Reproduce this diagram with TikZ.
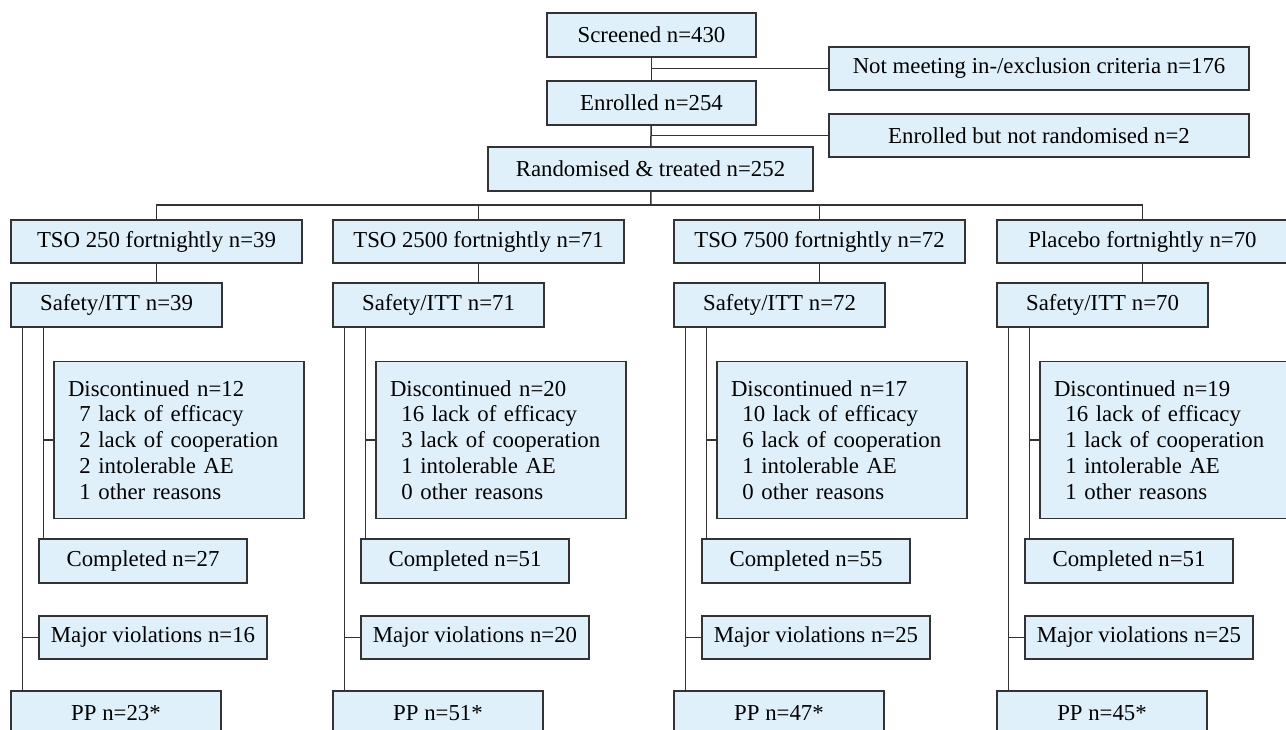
\documentclass[tikz,border=0pt]{standalone}
\usepackage{fontspec}
\setmainfont{Liberation Serif}
\definecolor{boxfill}{RGB}{224,240,250}
\definecolor{boxline}{RGB}{51,51,51}

\begin{document}
\begin{tikzpicture}[x=1pt,y=-1pt,
  box/.style={draw=boxline,fill=boxfill,line width=1.4pt,inner sep=0pt,
    font=\fontsize{22.8}{25.8}\selectfont},
  link/.style={draw=boxline,line width=1.5pt}]
  \useasboundingbox (0,0) rectangle (1286,730);
  \clip (0,0) rectangle (1286,730);
  % screening and randomisation
  \node[box,minimum width=209pt,minimum height=44pt] (scr) at (651.5,35) {Screened n=430};
  \node[box,minimum width=420pt,minimum height=43pt] (excl) at (1039,68.5) {Not meeting in-/exclusion criteria n=176};
  \node[box,minimum width=209pt,minimum height=44pt] (enr) at (651.5,103) {Enrolled n=254};
  \node[box,minimum width=420pt,minimum height=43pt] (nrand) at (1039,135.5) {Enrolled but not randomised n=2};
  \node[box,minimum width=325pt,minimum height=44pt] (rand) at (650.5,169) {Randomised \& treated n=252};
  \draw[link] (scr) -- (enr);
  \draw[link] (scr.south |- excl.west) -- (excl.west);
  \draw[link] (enr) -- (rand);
  \draw[link] (enr.south |- nrand.west) -- (nrand.west);
  % the four arms
  \foreach \colx/\idx/\arm/\n/\nd/\ea/\eb/\ec/\ed/\comp/\maj/\pp in {
      11/1/TSO 250/39/12/7/2/2/1/27/16/23,
      333/2/TSO 2500/71/20/16/3/1/0/51/20/51,
      674/3/TSO 7500/72/17/10/6/1/0/55/25/47,
      997/4/Placebo/70/19/16/1/1/1/51/25/45} {
    \node[box,minimum width=291pt,minimum height=43pt] (t\idx) at (\colx+145.5,241.5) {\arm{} fortnightly n=\n};
    \node[box,minimum width=211pt,minimum height=44pt] (s\idx) at (\colx+105.5,305) {Safety/ITT n=\n};
    \node[box,text width=222pt,inner xsep=14pt,minimum height=157pt,align=left] (d\idx) at (\colx+168,440)
      {Discontinued n=\nd\\\hspace*{0.5em}\ea{} lack of efficacy\\\hspace*{0.5em}\eb{} lack of cooperation\\
       \hspace*{0.5em}\ec{} intolerable AE\\\hspace*{0.5em}\ed{} other reasons};
    \node[box,minimum width=208pt,minimum height=44pt] (c\idx) at (\colx+132,561) {Completed n=\comp};
    \node[box,minimum width=228pt,minimum height=43pt] (m\idx) at (\colx+142,637.5) {Major violations n=\maj};
    \node[box,minimum width=210pt,minimum height=44pt] (p\idx) at (\colx+105,713) {PP n=\pp*};
    \draw[link] (t\idx) -- (t\idx.south |- s\idx.north);
    \coordinate (o\idx) at ([xshift=12pt]s\idx.south west);
    \coordinate (i\idx) at ([xshift=33pt]s\idx.south west);
    \draw[link] (o\idx) -- (o\idx |- p\idx.north);
    \draw[link] (o\idx |- m\idx.west) -- (m\idx.west);
    \draw[link] (i\idx) -- (i\idx |- c\idx.north);
    \draw[link] (i\idx |- d\idx.west) -- (d\idx.west);
  }
  \coordinate (bar) at (651,205);
  \draw[link] (rand) -- (bar);
  \draw[link] (t1.north) -- (t1.north |- bar) -- (t4.north |- bar) -- (t4.north);
  \foreach \idx in {2,3} \draw[link] (t\idx.north |- bar) -- (t\idx.north);
\end{tikzpicture}
\end{document}
